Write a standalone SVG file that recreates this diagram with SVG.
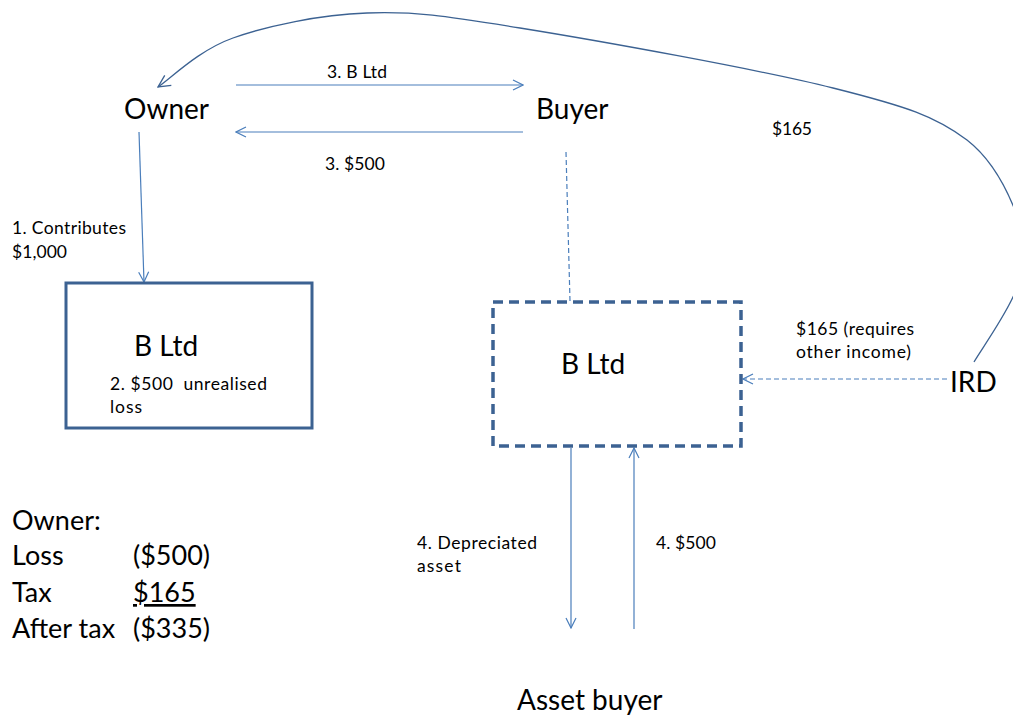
<svg xmlns="http://www.w3.org/2000/svg" width="1013" height="716" viewBox="0 0 1013 716">
<style>
text{font-family:Lato,"Open Sans","Liberation Sans",sans-serif;fill:#000;white-space:pre}
.big{font-size:28px}
.mid{font-size:27px}
.sm{font-size:17.5px}
.thin{stroke:#4a7ebb;stroke-width:1.2;fill:none}
.dark{stroke:#3c6292;stroke-width:1.3;fill:none}
.dash{stroke:#4a7ebb;stroke-width:1.2;fill:none;stroke-dasharray:5 3}
</style>
<defs>
<marker id="ah" viewBox="0 0 12 12" refX="11" refY="6" markerWidth="12" markerHeight="12" markerUnits="userSpaceOnUse" orient="auto">
<path d="M1,1 L11,6 L1,11" fill="none" stroke="#4a7ebb" stroke-width="1.2"/>
</marker>
<marker id="ahd" viewBox="0 0 14 14" refX="13" refY="7" markerWidth="14" markerHeight="14" markerUnits="userSpaceOnUse" orient="auto">
<path d="M1,1 L13,7 L1,13" fill="none" stroke="#3c6292" stroke-width="1.3"/>
</marker>
</defs>
<rect width="1013" height="716" fill="#fff"/>
<g id="connectors">
<path class="dark" marker-end="url(#ahd)" d="M974,362 C981,350 1008,312 1016,290 C1024,268 1030,255 1022,230 C1014,205 998,164 967,140 C935.5,116.3 907.5,106.7 833,88 C758.5,69.3 597.7,40.5 520,28 C442.3,15.5 414.8,11.3 367,13 C319.2,14.7 267.8,25.7 233,38 C198.2,50.3 170.5,78.8 158,87"/>
<line class="thin" x1="236" y1="85" x2="523" y2="85" marker-end="url(#ah)"/>
<line class="thin" x1="523" y1="132" x2="236" y2="132" marker-end="url(#ah)"/>
<line class="thin" x1="139" y1="132" x2="144" y2="282" marker-end="url(#ah)"/>
<line class="dash" x1="566" y1="152" x2="570" y2="301"/>
<line class="dash" x1="947" y1="379" x2="743" y2="379" marker-end="url(#ah)"/>
<line class="thin" x1="571" y1="448" x2="571" y2="628" marker-end="url(#ah)"/>
<line class="thin" x1="634" y1="629" x2="634" y2="448" marker-end="url(#ah)"/>
<text class="sm" x="327" y="78" textLength="60">3. B Ltd</text>
<text class="sm" x="325" y="170" textLength="60">3. $500</text>
<text class="sm" x="772" y="135" textLength="40">$165</text>
<text class="sm" x="12" y="234" textLength="114">1. Contributes</text>
<text class="sm" x="12" y="258" textLength="55">$1,000</text>
<text class="sm" x="796" y="335" textLength="118">$165 (requires</text>
<text class="sm" x="796" y="358" textLength="115">other income)</text>
<text class="sm" x="417" y="549" textLength="120">4. Depreciated</text>
<text class="sm" x="417" y="572" textLength="44">asset</text>
<text class="sm" x="656" y="549" textLength="60">4. $500</text>
</g>
<g id="owner"><text class="big" x="124" y="119">Owner</text></g>
<g id="buyer"><text class="big" x="536" y="119">Buyer</text></g>
<g id="bltd-left">
<rect x="66" y="283" width="246" height="145" fill="none" stroke="#3c6292" stroke-width="3"/>
<text class="big" x="134" y="356" font-size="27">B Ltd</text>
<text class="sm" x="110" y="390" textLength="157">2. $500  unrealised</text>
<text class="sm" x="110" y="413" textLength="32">loss</text>
</g>
<g id="bltd-right">
<rect x="493" y="302" width="248" height="144" fill="none" stroke="#3c6292" stroke-width="3.5" stroke-dasharray="10 6"/>
<text class="big" x="561" y="374" font-size="27">B Ltd</text>
</g>
<g id="ird"><text class="big" x="950" y="392">IRD</text></g>
<g id="asset-buyer"><text class="big" x="517" y="710">Asset buyer</text></g>
<g id="summary">
<text class="mid" x="12" y="530">Owner:</text>
<text class="mid" x="12" y="565">Loss</text>
<text class="mid" x="133" y="565">($500)</text>
<text class="mid" x="12" y="602">Tax</text>
<text class="mid" x="133" y="602" text-decoration="underline">$165</text>
<text class="mid" x="12" y="638">After tax</text>
<text class="mid" x="133" y="638">($335)</text>
</g>
</svg>
